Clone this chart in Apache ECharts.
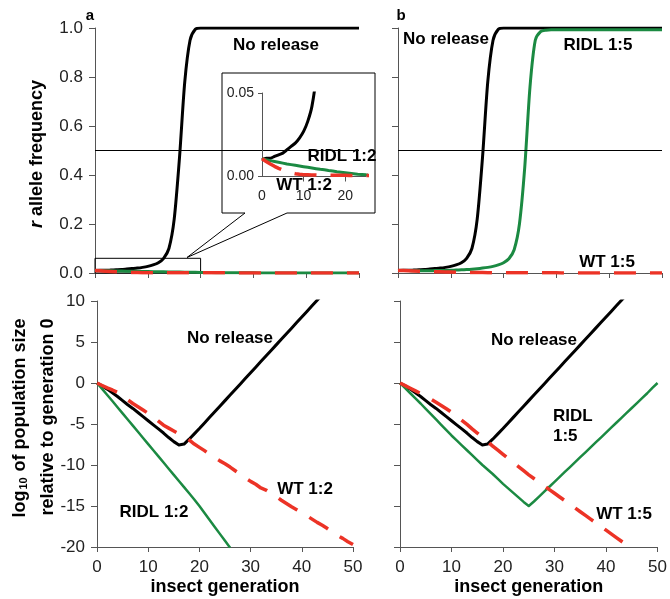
<!DOCTYPE html>
<html>
<head>
<meta charset="utf-8">
<script src="https://cdn.jsdelivr.net/npm/echarts@6/dist/echarts.min.js"></script>
<style>
  html, body { margin: 0; padding: 0; background: #fff; }
  #chart { width: 670px; height: 599px; }
</style>
</head>
<body>
<div id="chart"></div>
<script>
// Insect generations shared by every panel
const generations = [0,1,2,3,4,5,6,7,8,9,10,11,12,13,14,15,16,17,18,19,20,21,22,23,24,25,26,27,28,29,30,31,32,33,34,35,36,37,38,39,40,41,42,43,44,45,46,47,48,49,50];

// r allele frequency
const noReleaseFreq = [0.010,0.011,0.011,0.012,0.013,0.014,0.016,0.018,0.020,0.023,0.027,0.033,0.042,0.060,0.10,0.22,0.47,0.78,0.95,0.995,1.0,1.0,1.0,1.0,1.0,1.0,1.0,1.0,1.0,1.0,1.0,1.0,1.0,1.0,1.0,1.0,1.0,1.0,1.0,1.0,1.0,1.0,1.0,1.0,1.0,1.0,1.0,1.0,1.0,1.0,1.0];
const ridl12Freq = [0.0106,0.0100,0.0095,0.0090,0.0085,0.0080,0.0075,0.0071,0.0067,0.0063,0.0059,0.0055,0.0051,0.0047,0.0043,0.0040,0.0036,0.0033,0.0029,0.0026,0.0023,0.0020,0.0017,0.0014,0.0012,0.0010,0.0009,0.0008,0.0007,0.0006,0.0006,0.0005,0.0005,0.0005,0.0004,0.0004,0.0004,0.0004,0.0003,0.0003,0.0003,0.0003,0.0003,0.0003,0.0002,0.0002,0.0002,0.0002,0.0002,0.0002,0.0002];
const wt12Freq = [0.0106,0.0090,0.0075,0.0061,0.0049,0.0038,0.0029,0.0022,0.0017,0.0013,0.0011,0.0010,0.0009,0.0009,0.0008,0.0008,0.0008,0.0007,0.0007,0.0007,0.0007,0.0006,0.0006,0.0006,0.0006,0.0006,0.0005,0.0005,0.0005,0.0005,0.0005,0.0005,0.0004,0.0004,0.0004,0.0004,0.0004,0.0004,0.0004,0.0004,0.0003,0.0003,0.0003,0.0003,0.0003,0.0003,0.0003,0.0003,0.0003,0.0003,0.0003];
const ridl15Freq = [0.0106,0.0100,0.0097,0.0095,0.0094,0.0094,0.0095,0.0097,0.0100,0.0104,0.0110,0.0118,0.0128,0.0140,0.0155,0.0175,0.020,0.023,0.027,0.033,0.042,0.058,0.095,0.20,0.43,0.76,0.95,0.985,0.991,0.993,0.993,0.993,0.993,0.993,0.993,0.993,0.993,0.993,0.993,0.993,0.993,0.993,0.993,0.993,0.993,0.993,0.993,0.993,0.993,0.993,0.993];
const wt15Freq = [0.0106,0.0098,0.0090,0.0082,0.0075,0.0068,0.0061,0.0054,0.0048,0.0042,0.0037,0.0032,0.0028,0.0024,0.0021,0.0018,0.0016,0.0014,0.0012,0.0011,0.0010,0.0009,0.0009,0.0008,0.0008,0.0007,0.0007,0.0007,0.0006,0.0006,0.0006,0.0005,0.0005,0.0005,0.0005,0.0004,0.0004,0.0004,0.0004,0.0004,0.0004,0.0003,0.0003,0.0003,0.0003,0.0003,0.0003,0.0003,0.0003,0.0003,0.0003];

// log10 of population size relative to generation 0
const noReleasePop = [0,-0.35,-0.75,-1.2,-1.65,-2.15,-2.65,-3.1,-3.6,-4.1,-4.6,-5.1,-5.6,-6.1,-6.65,-7.15,-7.55,-7.45,-6.85,-6.2,-5.55,-4.87,-4.19,-3.51,-2.83,-2.15,-1.47,-0.79,-0.11,0.57,1.25,1.93,2.61,3.29,3.97,4.65,5.33,6.01,6.69,7.37,8.05,8.73,9.41,10.09,10.77,null,null,null,null,null,null];
const ridl12Pop = [0,-0.72,-1.46,-2.2,-2.95,-3.7,-4.45,-5.2,-5.95,-6.7,-7.45,-8.2,-8.95,-9.7,-10.45,-11.2,-11.95,-12.7,-13.45,-14.2,-15.0,-15.85,-16.7,-17.55,-18.4,-19.25,-20.1,null,null,null,null,null,null,null,null,null,null,null,null,null,null,null,null,null,null,null,null,null,null,null,null];
const wt12Pop = [0,-0.3,-0.6,-0.85,-1.15,-1.7,-2.05,-2.5,-2.9,-3.3,-3.7,-4.1,-4.65,-5.15,-5.5,-5.85,-6.2,-6.55,-6.95,-7.45,-7.85,-8.25,-8.7,-9.1,-9.5,-9.85,-10.25,-10.7,-11.15,-11.6,-12.0,-12.35,-12.8,-13.05,-13.45,-13.85,-14.3,-14.7,-15.1,-15.45,-15.8,-16.2,-16.6,-17.0,-17.35,-17.75,-18.2,-18.6,-18.95,-19.35,-19.7];
const ridl15Pop = [0,-0.62,-1.25,-1.88,-2.5,-3.15,-3.8,-4.45,-5.1,-5.75,-6.4,-7.0,-7.6,-8.2,-8.8,-9.4,-10.0,-10.55,-11.1,-11.7,-12.3,-12.85,-13.4,-13.95,-14.5,-15.0,-14.45,-13.85,-13.25,-12.65,-12.05,-11.45,-10.85,-10.25,-9.65,-9.05,-8.45,-7.85,-7.25,-6.65,-6.05,-5.45,-4.85,-4.25,-3.65,-3.05,-2.45,-1.85,-1.25,-0.6,0.0];
const wt15Pop = [0,-0.32,-0.64,-0.96,-1.28,-1.62,-1.96,-2.34,-2.74,-3.14,-3.56,-4.05,-4.55,-5.05,-5.6,-6.1,-6.65,-7.15,-7.7,-8.2,-8.7,-9.2,-9.7,-10.2,-10.7,-11.2,-11.65,-12.1,-12.55,-13.0,-13.45,-13.9,-14.35,-14.8,-15.25,-15.7,-16.15,-16.6,-17.05,-17.5,-17.95,-18.4,-18.85,-19.3,-19.75,-20.2,null,null,null,null,null];

const FONT = '"Liberation Sans", Arial, Helvetica, sans-serif';
const BLACK = '#000000';
const GREEN = '#1b8a42';
const RED = '#ec3326';
const AXIS = '#555555';
const DASH = [22, 14];

const pairs = arr => generations.map((g, i) => [g, arr[i]]);

const chart = echarts.init(document.getElementById('chart'), null, { renderer: 'canvas' });

function xAxisFor(gridIndex, withLabels) {
  return {
    type: 'value', gridIndex, min: 0, max: 50, interval: 10,
    axisLine: { onZero: false, lineStyle: { color: AXIS, width: 1 } },
    axisTick: { show: true, length: 5, lineStyle: { color: AXIS } },
    splitLine: { show: false },
    axisLabel: withLabels
      ? { show: true, fontFamily: FONT, fontSize: 17, color: '#222', margin: 12 }
      : { show: false },
    name: withLabels ? 'insect generation' : '',
    nameLocation: 'middle', nameGap: 31,
    nameTextStyle: { fontFamily: FONT, fontSize: 18, fontWeight: 'bold', color: '#000' }
  };
}

function yAxisFor(gridIndex, min, max, interval, withLabels, digits) {
  return {
    type: 'value', gridIndex, min, max, interval,
    axisLine: { show: true, onZero: false, lineStyle: { color: AXIS, width: 1 } },
    axisTick: { show: true, length: 6, lineStyle: { color: AXIS } },
    splitLine: { show: false },
    axisLabel: withLabels
      ? { show: true, fontFamily: FONT, fontSize: 17, color: '#222', margin: 12,
          formatter: v => v.toFixed(digits) }
      : { show: false }
  };
}

function line(name, xi, yi, data, color, width, dashed, extra) {
  return Object.assign({
    name, type: 'line', xAxisIndex: xi, yAxisIndex: yi,
    data: pairs(data), showSymbol: false, symbol: 'none', clip: true,
    connectNulls: false,
    lineStyle: { color, width, type: dashed ? DASH : 'solid', cap: 'butt', join: 'round' },
    emphasis: { disabled: true }, silent: true, animation: false
  }, extra || {});
}

const halfLine = {
  symbol: 'none', silent: true, label: { show: false },
  lineStyle: { color: '#000', width: 1, type: 'solid' },
  data: [{ yAxis: 0.5 }]
};

const smoothTop = { smooth: 0.25 };

const option = {
  backgroundColor: '#ffffff',
  animation: false,
  grid: [
    { left: 95, top: 28, width: 264, height: 245 },   // a, allele frequency
    { left: 398, top: 28, width: 264, height: 245 },  // b, allele frequency
    { left: 97, top: 301, width: 256, height: 246 },  // a, population size
    { left: 400, top: 301, width: 259, height: 246 }, // b, population size
    { left: 262, top: 93, width: 104, height: 83.5 }  // zoomed view of early generations
  ],
  xAxis: [
    xAxisFor(0, false), xAxisFor(1, false), xAxisFor(2, true), xAxisFor(3, true),
    {
      type: 'value', gridIndex: 4, min: 0, max: 25, interval: 10, z: 6,
      axisLine: { onZero: false, lineStyle: { color: AXIS, width: 1 } },
      axisTick: { show: true, length: 5, lineStyle: { color: AXIS }, customValues: [10, 20] },
      splitLine: { show: false },
      axisLabel: { fontFamily: FONT, fontSize: 14, color: '#222', margin: 13, customValues: [0, 10, 20] }
    }
  ],
  yAxis: [
    yAxisFor(0, 0, 1, 0.2, true, 1),
    yAxisFor(1, 0, 1, 0.2, false, 1),
    yAxisFor(2, -20, 10, 5, true, 0),
    yAxisFor(3, -20, 10, 5, false, 0),
    {
      type: 'value', gridIndex: 4, min: 0, max: 0.05, interval: 0.05, z: 6,
      axisLine: { show: true, onZero: false, lineStyle: { color: AXIS, width: 1 } },
      axisTick: { show: true, length: 4, lineStyle: { color: AXIS } },
      splitLine: { show: false },
      axisLabel: { fontFamily: FONT, fontSize: 14, color: '#222', margin: 8, formatter: v => v.toFixed(2) }
    }
  ],
  series: [
    // panel a, allele frequency
    line('No release', 0, 0, noReleaseFreq, BLACK, 3, false, Object.assign({
      markLine: halfLine,
      markArea: {
        silent: true,
        itemStyle: { color: 'rgba(0,0,0,0)', borderColor: '#000', borderWidth: 1 },
        data: [[{ coord: [0, 0] }, { coord: [20, 0.06] }]]
      }
    }, smoothTop)),
    line('RIDL 1:2', 0, 0, ridl12Freq, GREEN, 3, false),
    line('WT 1:2', 0, 0, wt12Freq, RED, 3.5, true),
    // panel b, allele frequency
    line('No release', 1, 1, noReleaseFreq, BLACK, 3, false, Object.assign({ markLine: halfLine }, smoothTop)),
    line('RIDL 1:5', 1, 1, ridl15Freq, GREEN, 3, false, smoothTop),
    line('WT 1:5', 1, 1, wt15Freq, RED, 3.5, true),
    // panel a, population size
    line('No release', 2, 2, noReleasePop, BLACK, 3, false),
    line('RIDL 1:2', 2, 2, ridl12Pop, GREEN, 2.5, false),
    line('WT 1:2', 2, 2, wt12Pop, RED, 3.5, true),
    // panel b, population size
    line('No release', 3, 3, noReleasePop, BLACK, 3, false),
    line('RIDL 1:5', 3, 3, ridl15Pop, GREEN, 2.5, false),
    line('WT 1:5', 3, 3, wt15Pop, RED, 3.5, true),
    // zoomed view
    line('No release', 4, 4, noReleaseFreq, BLACK, 3, false, Object.assign({ z: 7 }, smoothTop)),
    line('RIDL 1:2', 4, 4, ridl12Freq, GREEN, 3, false, { z: 7 }),
    line('WT 1:2', 4, 4, wt12Freq, RED, 3.5, true, { z: 8 })
  ],
  graphic: { elements: [] }
};

const els = option.graphic.elements;

// callout frame holding the zoomed view
els.push({
  type: 'polygon', z: 5, silent: true,
  shape: { points: [[222, 73], [375, 73], [375, 213], [287, 213], [187, 257.5], [245, 213], [222, 213]] },
  style: { fill: '#fff', stroke: '#000', lineWidth: 1 }
});

function label(text, x, y, size, extra) {
  els.push(Object.assign({
    type: 'text', x, y, z: 20, silent: true,
    style: Object.assign({
      text, fontFamily: FONT, fontSize: size || 17, fontWeight: 'bold', fill: '#000',
      align: 'center', verticalAlign: 'middle'
    }, (extra && extra.style) || {})
  }, extra && extra.rotation !== undefined ? { rotation: extra.rotation } : {}));
}

label('a', 90, 16, 15);
label('b', 401, 16, 15);

label('No release', 276, 45);
label('RIDL 1:2', 342, 156);
label('WT 1:2', 304, 185);
label('No release', 446, 39);
label('RIDL 1:5', 598, 45);
label('WT 1:5', 607, 262);

label('No release', 230, 338);
label('WT 1:2', 305, 489);
label('RIDL 1:2', 154, 512);
label('No release', 534, 340);
label('RIDL\n1:5', 553, 426, 17, { style: { align: 'left', lineHeight: 20 } });
label('WT 1:5', 624, 514);

// y axis titles
label('{i|r} allele frequency', 37, 154, 18, {
  rotation: Math.PI / 2,
  style: { rich: { i: { fontFamily: FONT, fontSize: 18, fontWeight: 'bold', fontStyle: 'italic' } } }
});
label('log{s|10} of population size', 20, 418, 18, {
  rotation: Math.PI / 2,
  style: { rich: { s: { fontFamily: FONT, fontSize: 11, fontWeight: 'bold', verticalAlign: 'bottom', padding: [0, 1, 0, 1] } } }
});
label('relative to generation 0', 48, 417, 18, { rotation: Math.PI / 2 });

chart.setOption(option);
</script>
</body>
</html>
